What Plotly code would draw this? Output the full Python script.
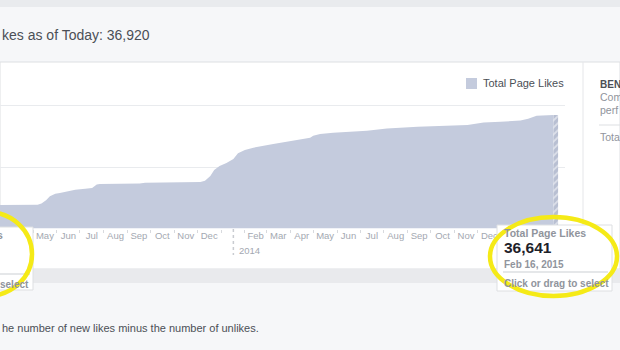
import plotly.graph_objects as go
import pandas as pd

# ---------------- data ----------------
dates = [
    "2013-03-19", "2013-05-07", "2013-05-12", "2013-05-18", "2013-05-23", "2013-05-30",
    "2013-06-05", "2013-06-14", "2013-06-25", "2013-07-08", "2013-07-17", "2013-07-23",
    "2013-07-27", "2013-09-17", "2013-09-24", "2013-12-05", "2013-12-11", "2013-12-18",
    "2013-12-23", "2013-12-30", "2014-01-08", "2014-01-17", "2014-01-23", "2014-02-01",
    "2014-02-12", "2014-03-10", "2014-04-10", "2014-04-27", "2014-05-01", "2014-05-10",
    "2014-05-27", "2014-07-10", "2014-08-05", "2014-09-14", "2014-11-18", "2014-12-05",
    "2014-12-09", "2014-12-31", "2015-01-26", "2015-02-05", "2015-02-16", "2015-03-10",
]
likes = [
    7640, 7700, 8100, 9200, 10500, 11300,
    11550, 12100, 12600, 12950, 13200, 14300,
    14450, 14650, 14900, 15100, 15500, 17100,
    19000, 20300, 21300, 22600, 24500, 25500,
    26300, 27450, 28750, 29550, 30200, 30700,
    31150, 31800, 32500, 33100, 33650, 34200,
    34450, 34750, 35100, 35700, 36641, 36920,
]
partial_end = "2015-03-16"
x_range = ["2013-03-19", "2015-03-25"]
y_range = [0, 48293]
y_grid_step = 20000

tick_months = [
    "2013-05", "2013-06", "2013-07", "2013-08", "2013-09", "2013-10", "2013-11", "2013-12",
    "2014-02", "2014-03", "2014-04", "2014-05", "2014-06", "2014-07", "2014-08", "2014-09",
    "2014-10", "2014-11", "2014-12",
]
tick_text = [
    "May", "Jun", "Jul", "Aug", "Sep", "Oct", "Nov", "Dec",
    "Feb", "Mar", "Apr", "May", "Jun", "Jul", "Aug", "Sep",
    "Oct", "Nov", "Dec",
]

series_name = "Total Page Likes"
title_text = "kes as of Today: 36,920"
footer_text = "he number of new likes minus the number of unlikes."
tooltip_value = "36,641"
tooltip_date = "Feb 16, 2015"
tooltip_hint = "Click or drag to select"
left_tip_name = "s"
left_tip_hint = "select"
year_label = "2014"
year_split = "2014-01-17"
side_texts = ["BEN", "Com", "perf", "Tota"]

# ---------------- styles ----------------
W, H = 620, 350
FONT = "Liberation Sans, Arial, Helvetica, sans-serif"
AREA = "#c4cbdd"
DARK = "#4b4f56"
GRAY = "#90949c"
AXIS_GRAY = "#a3a8b1"
BORDER = "#dddfe2"
YELLOW = "#f5ea17"


def px(x):
    return x / W


def py(y):
    return 1 - y / H


# label positions: middle of each month (label centred in its period)
tick_vals = []
for m in tick_months:
    start = pd.Timestamp(m + "-01")
    end = start + pd.offsets.MonthBegin(1)
    tick_vals.append(start + (end - start) / 2)

fig = go.Figure()

fig.add_trace(go.Scatter(
    x=dates, y=likes, mode="lines", line=dict(width=0, color=AREA),
    fill="tozeroy", fillcolor=AREA, name=series_name, hoverinfo="skip",
    showlegend=False,
))
fig.add_trace(go.Scatter(
    x=[dates[-1], partial_end], y=[likes[-1], likes[-1]], mode="lines",
    line=dict(width=0, color=AREA), fill="tozeroy", fillcolor=AREA,
    fillpattern=dict(shape="/", fgcolor="#ffffff", bgcolor="#b8bfd2", size=5, solidity=0.35),
    hoverinfo="skip", showlegend=False,
))

shapes = []
# page bands
shapes.append(dict(type="rect", xref="paper", yref="paper", x0=0, x1=1, y0=py(7), y1=1,
                   fillcolor="#e9ebee", line_width=0, layer="below"))
shapes.append(dict(type="rect", xref="paper", yref="paper", x0=0, x1=1, y0=py(269), y1=py(62),
                   fillcolor="#ffffff", line=dict(color=BORDER, width=1), layer="below"))
shapes.append(dict(type="rect", xref="paper", yref="paper", x0=0, x1=1, y0=py(283), y1=py(269),
                   fillcolor="#e9eaed", line_width=0, layer="below"))
shapes.append(dict(type="line", xref="paper", yref="paper", x0=px(583), x1=px(583), y0=py(269), y1=py(62),
                   line=dict(color="#e5e6e9", width=1), layer="below"))
shapes.append(dict(type="line", xref="paper", yref="paper", x0=px(599), x1=1, y0=py(125), y1=py(125),
                   line=dict(color=BORDER, width=1), layer="below"))
# year separator
shapes.append(dict(type="line", xref="x", yref="paper", x0=year_split, x1=year_split,
                   y0=py(229), y1=py(255), line=dict(color="#c9ccd1", width=1.5, dash="dot")))
# legend square
shapes.append(dict(type="rect", xref="paper", yref="paper", x0=px(466), x1=px(477), y0=py(89), y1=py(78),
                   fillcolor=AREA, line_width=0))
# tooltips
shapes.append(dict(type="rect", xref="paper", yref="paper", x0=px(-5), x1=px(33), y0=py(290), y1=py(227),
                   fillcolor="#ffffff", line=dict(color=BORDER, width=1), layer="above"))
shapes.append(dict(type="line", xref="paper", yref="paper", x0=0, x1=px(30), y0=py(274), y1=py(274),
                   line=dict(color=BORDER, width=1.5), layer="above"))
shapes.append(dict(type="rect", xref="paper", yref="paper", x0=px(497), x1=px(612), y0=py(291), y1=py(225),
                   fillcolor="#ffffff", line=dict(color=BORDER, width=1), layer="above"))
shapes.append(dict(type="line", xref="paper", yref="paper", x0=px(503), x1=px(608), y0=py(272), y1=py(272),
                   line=dict(color=BORDER, width=1.5), layer="above"))
# yellow circles
shapes.append(dict(type="circle", xref="paper", yref="paper", x0=px(-57), x1=px(32), y0=py(296), y1=py(212),
                   line=dict(color=YELLOW, width=4.5), layer="above"))
shapes.append(dict(type="circle", xref="paper", yref="paper", x0=px(490), x1=px(617), y0=py(296), y1=py(217),
                   line=dict(color=YELLOW, width=4.5), layer="above"))


def note(text, x, y, size, color, bold=False, xanchor="left", xref="paper", xshift=0):
    return dict(text=f"<b>{text}</b>" if bold else text, x=x, y=y, xref=xref, yref="paper",
                xanchor=xanchor, yanchor="middle", showarrow=False, xshift=xshift,
                font=dict(family=FONT, size=size, color=color))


annotations = [
    note(title_text, 0, py(35), 14, DARK),
    note(series_name, px(481), py(83), 11, DARK),
    note(year_label, year_split, py(250), 9.5, AXIS_GRAY, xref="x", xshift=4),
    note(footer_text, 0, py(328), 11, DARK),
    note(side_texts[0], px(598), py(84), 10, DARK, bold=True),
    note(side_texts[1], px(598), py(97), 10.5, GRAY),
    note(side_texts[2], px(598), py(110), 10.5, GRAY),
    note(side_texts[3], px(598), py(137), 10.5, GRAY),
    note(left_tip_name, px(5), py(235), 10.5, GRAY, bold=True, xanchor="right"),
    note(left_tip_hint, px(31), py(284), 10, GRAY, bold=True, xanchor="right"),
    note(series_name, px(502), py(233), 10.5, GRAY, bold=True),
    note(tooltip_value, px(502), py(248), 15.5, "#1d2129", bold=True),
    note(tooltip_date, px(502), py(264), 10, GRAY, bold=True),
    note(tooltip_hint, px(502), py(283), 10, GRAY, bold=True),
]

fig.update_layout(
    width=W, height=H, margin=dict(l=0, r=0, t=0, b=0, pad=0),
    paper_bgcolor="#f6f7f9", plot_bgcolor="rgba(0,0,0,0)",
    showlegend=False, shapes=shapes, annotations=annotations,
    font=dict(family=FONT),
    xaxis=dict(
        type="date", range=x_range, domain=[0, px(565)],
        showgrid=False, zeroline=False, showline=False,
        tickmode="array", tickvals=tick_vals, ticktext=tick_text,
        ticks="", ticklen=6,
        minor=dict(ticks="outside", ticklen=3, tickcolor="#d8dade", tickwidth=1,
                   dtick="M1", tick0="2013-01-01", showgrid=False),
        tickfont=dict(family=FONT, size=9.5, color=AXIS_GRAY),
    ),
    yaxis=dict(
        range=y_range, domain=[py(228.5), py(80)], dtick=y_grid_step,
        showticklabels=False, gridcolor="#e9ebee", gridwidth=1,
        zeroline=False, showline=False, ticks="",
    ),
)

fig.write_html("out.html")
